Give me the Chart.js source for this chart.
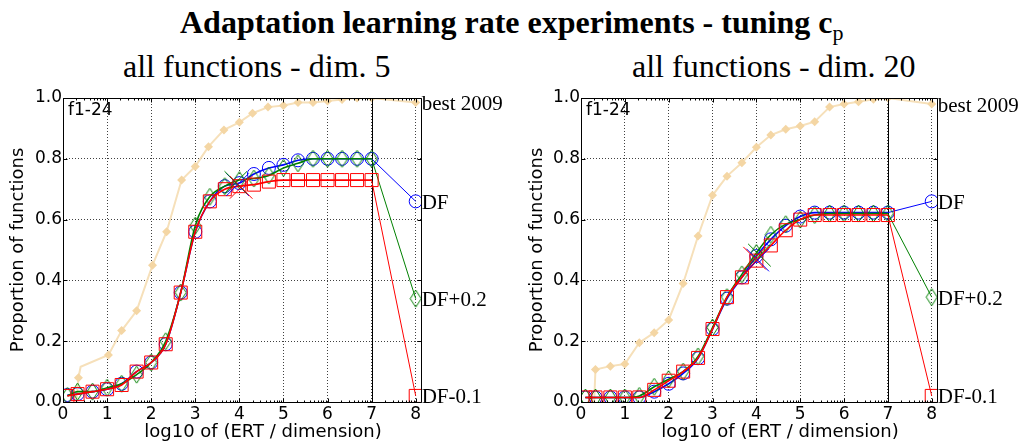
<!DOCTYPE html>
<html>
<head>
<meta charset="utf-8">
<title>Adaptation learning rate experiments</title>
<script src="https://cdn.jsdelivr.net/npm/chart.js@4.4.1/dist/chart.umd.min.js"></script>
<style>
  html, body { margin: 0; padding: 0; background: #fff; }
  body { position: relative; width: 1019px; height: 441px; overflow: hidden; }
  canvas { position: absolute; top: 0; }
  #chart5 { left: 0; }
  #chart20 { left: 519px; }
  .ttl { position: absolute; font-family: "Liberation Serif", "Times New Roman", serif; font-size: 32px; line-height: 32px; white-space: nowrap; color: #000; }
  #suptitle { left: 180px; top: 6px; font-weight: bold; }
  #suptitle span { font-size: 22px; font-weight: normal; position: relative; top: 7px; }
  #sub5 { left: 123px; top: 50px; }
  #sub20 { left: 632px; top: 50px; }
</style>
</head>
<body>
<div id="suptitle" class="ttl">Adaptation learning rate experiments - tuning c<span>p</span></div>
<div id="sub5" class="ttl">all functions - dim. 5</div>
<div id="sub20" class="ttl">all functions - dim. 20</div>
<canvas id="chart5" width="510" height="441"></canvas>
<canvas id="chart20" width="500" height="441"></canvas>
<script>
  "use strict";

  const xTicks = [0, 1, 2, 3, 4, 5, 6, 7, 8];
  const yTicks = [0, 0.2, 0.4, 0.6, 0.8, 1.0];
  const seriesNames = ["DF", "DF+0.2", "DF-0.1"];
  const bestName = "best 2009";
  const panelLabel = "f1-24";
  const xTitle = "log10 of (ERT / dimension)";
  const yTitle = "Proportion of functions";

  // marker positions, log10 of (ERT / dimension)
  const markX = [0.1, 0.33, 0.67, 1, 1.33, 1.67, 2, 2.33, 2.67, 3, 3.33,
    3.67, 4, 4.33, 4.67, 5, 5.33, 5.67, 6, 6.33, 6.67, 7];
  const endX = 8;

  // dim. 5
  const bestX5 = [0.3, 0.35, 0.4, 1.03, 1.33, 1.67, 2.03, 2.35, 2.69, 3, 3.3,
    3.65, 4, 4.3, 4.65, 5, 5.33, 5.67, 6, 6.33, 6.67, 7, 8];
  const bestY5 = [0, 0.08, 0.116, 0.155, 0.235, 0.3, 0.45, 0.56, 0.73, 0.775,
    0.84, 0.895, 0.92, 0.95, 0.97, 0.975, 0.985, 0.985, 0.99, 0.995, 1.0, 1.0, 0.985];
  const bestPlain5 = [0, 2];
  const df5 = [0.023, 0.026, 0.034, 0.042, 0.06, 0.1, 0.13, 0.19, 0.36, 0.56,
    0.66, 0.71, 0.72, 0.75, 0.77, 0.78, 0.795, 0.8, 0.8, 0.8, 0.8, 0.8];
  const dfPlus5 = [0.02, 0.034, 0.034, 0.047, 0.06, 0.09, 0.13, 0.2, 0.36, 0.58,
    0.675, 0.71, 0.73, 0.735, 0.745, 0.77, 0.785, 0.8, 0.8, 0.8, 0.8, 0.8];
  const dfMinus5 = [0.02, 0.026, 0.034, 0.042, 0.056, 0.1, 0.13, 0.19, 0.36, 0.56,
    0.66, 0.7, 0.71, 0.715, 0.725, 0.73, 0.73, 0.73, 0.73, 0.73, 0.73, 0.73];
  const end5 = [0.66, 0.34, 0.02];
  const crossX5 = [3.96, 3.92, 4.04];
  const crossY5 = [0.715, 0.722, 0.706];

  // dim. 20
  const bestX20 = [0.3, 0.33, 0.67, 1, 1.33, 1.67, 2, 2.33, 2.67, 3, 3.33,
    3.67, 4, 4.33, 4.67, 5, 5.33, 5.67, 6, 6.33, 6.67, 7, 8];
  const bestY20 = [0, 0.107, 0.118, 0.125, 0.195, 0.228, 0.27, 0.39, 0.546, 0.68,
    0.743, 0.787, 0.838, 0.878, 0.897, 0.908, 0.922, 0.97, 0.98, 0.988, 0.996, 1.0, 0.98];
  const bestPlain20 = [0];
  const df20 = [0.015, 0.015, 0.015, 0.015, 0.015, 0.034, 0.06, 0.094, 0.144, 0.24,
    0.34, 0.41, 0.48, 0.535, 0.58, 0.61, 0.623, 0.623, 0.623, 0.623, 0.623, 0.623];
  const dfPlus20 = [0.015, 0.015, 0.015, 0.015, 0.02, 0.05, 0.075, 0.1, 0.15, 0.245,
    0.345, 0.42, 0.49, 0.55, 0.585, 0.6, 0.615, 0.62, 0.62, 0.62, 0.62, 0.62];
  const dfMinus20 = [0.015, 0.015, 0.015, 0.015, 0.015, 0.04, 0.07, 0.1, 0.145, 0.24,
    0.345, 0.41, 0.465, 0.515, 0.565, 0.6, 0.615, 0.615, 0.615, 0.615, 0.615, 0.615];
  const end20 = [0.66, 0.345, 0.02];
  const crossX20 = [4.03, 4.07, 3.96];
  const crossY20 = [0.467, 0.483, 0.473];

  const colors = ["#0000ff", "#008000", "#ff0000"];
  const bestLine = "rgb(246,224,186)";
  const bestMark = "rgb(244,214,164)";
  const sans = "'DejaVu Sans', sans-serif";
  const serif = "'Liberation Serif', 'Times New Roman', serif";

  // matplotlib-like thin diamond, drawn once per colour
  function thinDiamond(color) {
    const c = document.createElement("canvas");
    c.width = 13;
    c.height = 19;
    const g = c.getContext("2d");
    g.strokeStyle = color;
    g.lineWidth = 1;
    g.beginPath();
    g.moveTo(6.5, 1);
    g.lineTo(12, 9.5);
    g.lineTo(6.5, 18);
    g.lineTo(1, 9.5);
    g.closePath();
    g.stroke();
    return c;
  }

  const markers = [
    { style: "circle", radius: 6.5 },
    { style: thinDiamond(colors[1]), radius: 6 },
    { style: "rect", radius: 9.2 },
  ];

  function curveSets(ys, ends, cross) {
    const sets = [];
    [ys[0], ys[1], ys[2]].forEach((vals, i) => {
      const base = {
        borderColor: colors[i],
        pointStyle: markers[i].style,
        pointBorderColor: colors[i],
        pointBackgroundColor: "rgba(0,0,0,0)",
        pointBorderWidth: 1,
        order: 4 - i,
      };
      sets.push(Object.assign({}, base, {
        label: seriesNames[i],
        data: markX.map((x, k) => ({ x, y: vals[k] })),
        borderWidth: 1.6,
        pointRadius: markers[i].radius,
        cubicInterpolationMode: "monotone",
      }));
      sets.push(Object.assign({}, base, {
        label: seriesNames[i] + " end",
        endLabel: seriesNames[i],
        data: [{ x: markX[markX.length - 1], y: vals[vals.length - 1] }, { x: endX, y: ends[i] }],
        borderWidth: 1,
        pointRadius: [0, markers[i].radius],
      }));
    });
    sets.push({
      label: "ERT",
      data: cross.x.map((x, k) => ({ x, y: cross.y[k] })),
      showLine: false,
      pointStyle: "crossRot",
      pointRadius: 16,
      pointBorderWidth: 1,
      pointBorderColor: [colors[0], colors[1], colors[2]],
      order: 1,
    });
    return sets;
  }

  function bestSet(xs, ys, plain) {
    return {
      label: bestName,
      endLabel: bestName,
      data: xs.map((x, k) => ({ x, y: ys[k] })),
      borderColor: bestLine,
      borderWidth: 2,
      pointStyle: "rectRot",
      pointRadius: xs.map((x, k) => (plain.includes(k) ? 0 : 4.5)),
      pointBackgroundColor: bestMark,
      pointBorderColor: bestMark,
      pointBorderWidth: 0,
      order: 6,
    };
  }

  const minorOffsets = [2, 3, 4, 5, 6, 7, 8, 9].map(Math.log10);

  const framePlugin = {
    id: "frame",
    beforeDatasetsDraw(chart) {
      const { ctx, chartArea: a, scales: { x } } = chart;
      const px = Math.round(x.getPixelForValue(7)) + 0.5;
      ctx.save();
      ctx.strokeStyle = "#000";
      ctx.lineWidth = 1;
      ctx.beginPath();
      ctx.moveTo(px, a.top);
      ctx.lineTo(px, a.bottom);
      ctx.stroke();
      ctx.restore();
    },
    afterDraw(chart) {
      const { ctx, chartArea: a, scales: { x, y } } = chart;
      const l = Math.round(a.left) + 0.5, r = Math.round(a.right) + 0.5;
      const t = Math.round(a.top) + 0.5, b = Math.round(a.bottom) + 0.5;
      ctx.save();
      ctx.strokeStyle = "#000";
      ctx.lineWidth = 1;
      ctx.beginPath();
      ctx.rect(l, t, r - l, b - t);
      // inward major ticks
      xTicks.forEach((v) => {
        const p = Math.round(x.getPixelForValue(v)) + 0.5;
        ctx.moveTo(p, b); ctx.lineTo(p, b - 4);
        ctx.moveTo(p, t); ctx.lineTo(p, t + 4);
      });
      yTicks.forEach((v) => {
        const p = Math.round(y.getPixelForValue(v)) + 0.5;
        ctx.moveTo(l, p); ctx.lineTo(l + 4, p);
        ctx.moveTo(r, p); ctx.lineTo(r - 4, p);
      });
      // minor ticks of the log scale
      xTicks.forEach((v) => {
        minorOffsets.forEach((o) => {
          if (v + o > x.max) return;
          const p = Math.round(x.getPixelForValue(v + o)) + 0.5;
          ctx.moveTo(p, b); ctx.lineTo(p, b - 2);
          ctx.moveTo(p, t); ctx.lineTo(p, t + 2);
        });
      });
      ctx.stroke();

      ctx.fillStyle = "#000";
      ctx.font = "17px " + sans;
      ctx.textAlign = "left";
      ctx.textBaseline = "top";
      ctx.fillText(panelLabel, a.left + 5, a.top + 4);

      // x axis title sits a little right of the axes centre
      ctx.font = "18px " + sans;
      ctx.textAlign = "center";
      ctx.textBaseline = "middle";
      ctx.fillText(xTitle, (a.left + a.right) / 2 + 21, chart.height - 9);

      // series names next to their last point
      ctx.font = "21px " + serif;
      ctx.textAlign = "left";
      chart.data.datasets.forEach((ds) => {
        if (!ds.endLabel) return;
        const last = ds.data[ds.data.length - 1];
        ctx.fillText(ds.endLabel, x.getPixelForValue(last.x) + 6, y.getPixelForValue(last.y) + 2);
      });
      ctx.restore();
    },
  };

  function makeChart(id, datasets, axisWidth, padRight) {
    return new Chart(document.getElementById(id), {
      type: "line",
      data: { datasets },
      plugins: [framePlugin],
      options: {
        responsive: false,
        animation: false,
        events: [],
        layout: { padding: { top: 98, right: padRight, bottom: 0, left: 0 } },
        plugins: { legend: { display: false }, tooltip: { enabled: false } },
        scales: {
          x: {
            type: "linear",
            min: 0,
            max: 8.12,
            afterBuildTicks: (s) => { s.ticks = xTicks.map((value) => ({ value })); },
            afterFit: (s) => { s.height = 39; },
            grid: { color: "rgba(0,0,0,0.75)", lineWidth: 1, drawTicks: false },
            border: { display: false, dash: [1, 2] },
            ticks: { color: "#000", font: { family: sans, size: 17 }, padding: 2, maxRotation: 0 },
          },
          y: {
            min: 0,
            max: 1,
            afterBuildTicks: (s) => { s.ticks = yTicks.map((value) => ({ value })); },
            afterFit: (s) => { s.width = axisWidth; },
            grid: { color: "rgba(0,0,0,0.75)", lineWidth: 1, drawTicks: false },
            border: { display: false, dash: [1, 2] },
            ticks: {
              color: "#000",
              font: { family: sans, size: 17 },
              padding: 1,
              callback: (v) => v.toFixed(1),
            },
            title: {
              display: true,
              text: yTitle,
              color: "#000",
              font: { family: sans, size: 18 },
              padding: { top: 8, bottom: 0 },
            },
          },
        },
      },
    });
  }

  makeChart("chart5", [bestSet(bestX5, bestY5, bestPlain5)].concat(
    curveSets([df5, dfPlus5, dfMinus5], end5, { x: crossX5, y: crossY5 })), 63, 89);
  makeChart("chart20", [bestSet(bestX20, bestY20, bestPlain20)].concat(
    curveSets([df20, dfPlus20, dfMinus20], end20, { x: crossX20, y: crossY20 })), 62, 82);
</script>
</body>
</html>
